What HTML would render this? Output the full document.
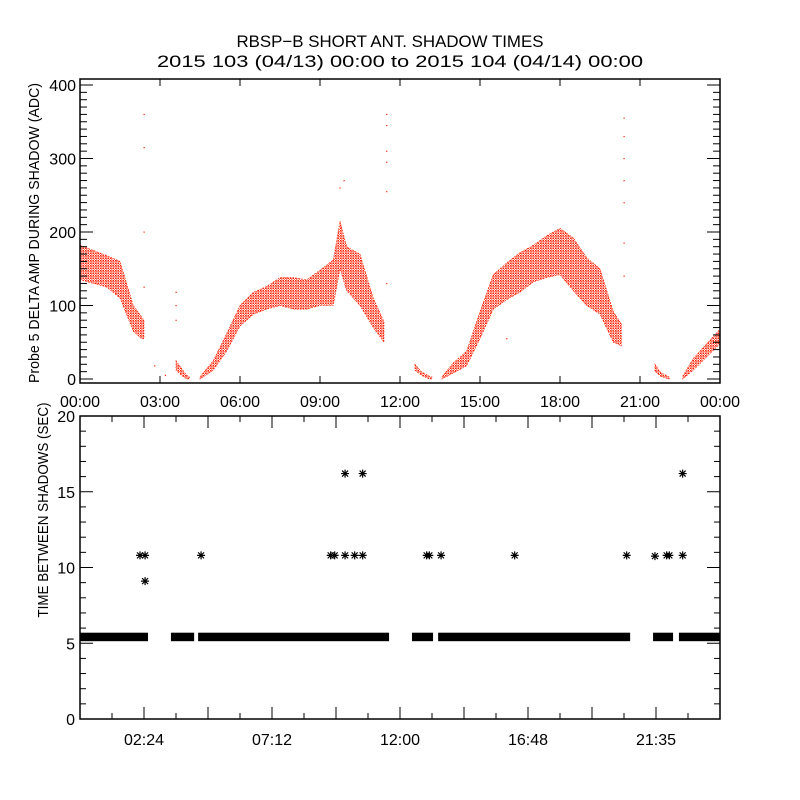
<!DOCTYPE html>
<html><head><meta charset="utf-8"><style>
html,body{margin:0;padding:0;background:#fff}
svg{display:block}
text{font-family:"Liberation Sans",sans-serif;fill:#000}
</style></head><body>
<svg id="chart" width="800" height="800" viewBox="0 0 800 800">
<defs>
<pattern id="dots" width="2.5" height="2.5" patternUnits="userSpaceOnUse">
<rect x="0" y="0" width="1.5" height="1.5" fill="#ff2000"/>
<rect x="1.3" y="1.3" width="1" height="1" fill="#ff2000"/>
</pattern>
</defs>
<text x="390" y="47" font-size="17" text-anchor="middle" textLength="307" lengthAdjust="spacingAndGlyphs">RBSP−B SHORT ANT. SHADOW TIMES</text>
<text x="400" y="67" font-size="17" text-anchor="middle" textLength="486" lengthAdjust="spacingAndGlyphs">2015 103 (04/13) 00:00 to 2015 104 (04/14) 00:00</text>
<g id="topPanel"></g>
<g id="botPanel"></g>
</svg>
<script>
// ---- top panel data (hours, low/high ADC envelopes per segment) ----
const topSegHours = [
 [0,0.5,1,1.5,2,2.3,2.4],
 [3.6,3.8,4.0,4.1],
 [4.5,5,5.5,6,6.5,7,7.5,8,8.5,9,9.5,9.75,10,10.5,11,11.4],
 [12.56,12.8,13.1,13.2],
 [13.57,14,14.5,15,15.5,16,16.5,17,17.5,18,18.5,19,19.5,20,20.3],
 [21.56,21.8,22.1],
 [22.6,23,23.5,24]
];
const topSegLow = [
 [135,130,125,110,65,55,55],
 [12,5,0,0],
 [0,12,38,72,88,95,100,95,95,100,100,150,120,100,70,50],
 [12,5,0,0],
 [0,8,18,55,95,108,118,132,138,142,120,100,88,50,45],
 [10,3,0],
 [0,12,30,48]
];
const topSegHigh = [
 [182,175,168,160,100,85,80],
 [25,15,5,3],
 [3,25,62,100,118,126,138,138,135,148,162,215,180,170,110,78],
 [20,10,4,3],
 [3,22,38,92,142,158,172,182,195,205,192,165,150,92,75],
 [20,8,3],
 [4,28,48,68]
];
const spikeHours = [2.4,2.4,2.4,2.4,3.6,3.6,3.6,11.5,11.5,11.5,11.5,11.5,11.5,20.4,20.4,20.4,20.4,20.4,20.4,20.4,9.9,9.75,2.8,3.2,16.0];
const spikeValues = [360,315,200,125,118,100,80,360,345,310,295,255,130,355,330,300,270,240,185,140,270,260,18,5,55];
const topYTicks = [0,100,200,300,400];
const topXLabels = ["00:00","03:00","06:00","09:00","12:00","15:00","18:00","21:00","00:00"];
// ---- bottom panel data ----
const runStart = [0,3.41,4.43,12.45,13.43,21.49,22.46];
const runEnd   = [2.55,4.28,11.59,13.24,20.63,22.24,24];
const runValue = [5.4,5.4,5.4,5.4,5.4,5.4,5.4];
const starHours  = [2.25,2.44,4.54,9.4,9.55,9.94,10.3,10.6,13.0,13.1,13.54,16.3,20.5,21.56,22.0,22.1,22.6,9.94,10.6,22.6,2.44];
const starValues = [10.8,10.8,10.8,10.8,10.8,10.8,10.8,10.8,10.8,10.8,10.8,10.8,10.8,10.75,10.8,10.8,10.8,16.2,16.2,16.2,9.1];
const botYTicks = [0,5,10,15,20];
const botXLabels = ["02:24","07:12","12:00","16:48","21:35"];
const botXLabelHours = [2.4,7.2,12,16.8,21.6];

const NS="http://www.w3.org/2000/svg";
function mk(parent,tag,attrs){const e=document.createElementNS(NS,tag);for(const k in attrs)e.setAttribute(k,attrs[k]);parent.appendChild(e);return e;}
const L=80,R=720;
const xs=h=>L+h/24*(R-L);
const tT=79,tB=383, yT=v=>379-v*0.735;
const bT=416,bB=719, yB=v=>719-v*(719-416)/20;

const topG=document.getElementById('topPanel');
topSegHours.forEach((hs,i)=>{
 let d='';
 hs.forEach((h,j)=>{d+=(j?'L':'M')+xs(h).toFixed(1)+','+yT(topSegHigh[i][j]).toFixed(1);});
 for(let j=hs.length-1;j>=0;j--){d+='L'+xs(hs[j]).toFixed(1)+','+yT(topSegLow[i][j]).toFixed(1);}
 const p=mk(topG,'path',{d:d+'Z',fill:'url(#dots)',stroke:'#ff2000','stroke-width':'0.6','stroke-dasharray':'1.5 1.5'});
 
 
});
spikeHours.forEach((h,i)=>{
 const r=mk(topG,'rect',{x:xs(h)-0.5,y:yT(spikeValues[i])-0.5,width:1.2,height:1.2,fill:'#ff2000'});
 
 
});
const tf=mk(topG,'rect',{x:L,y:tT,width:R-L,height:tB-tT,fill:'none',stroke:'#000','stroke-width':1.5});


for(let v=0;v<=400;v+=10){
 const len=v%100===0?13:7;
 mk(topG,'line',{x1:L,x2:L+len,y1:yT(v),y2:yT(v),stroke:'#000'});
 mk(topG,'line',{x1:R,x2:R-len,y1:yT(v),y2:yT(v),stroke:'#000'});
}
topYTicks.forEach(v=>{
 const t=mk(topG,'text',{x:L-4,y:yT(v)+6,'font-size':16,'text-anchor':'end'});t.textContent=v;
 
 
});
topXLabels.forEach((s,i)=>{
 const x=xs(i*3);
 mk(topG,'line',{x1:x,x2:x,y1:tT,y2:tT+7,stroke:'#000'});
 mk(topG,'line',{x1:x,x2:x,y1:tB,y2:tB-7,stroke:'#000'});
 const t=mk(topG,'text',{x:x,y:407,'font-size':16,'text-anchor':'middle'});t.textContent=s;
 
 
});
const tyt=mk(topG,'text',{x:0,y:0,'font-size':14.5,'text-anchor':'middle',transform:'translate(39,233) rotate(-90)',textLength:300,lengthAdjust:'spacingAndGlyphs'});
tyt.textContent='Probe 5 DELTA AMP DURING SHADOW (ADC)';



const botG=document.getElementById('botPanel');
runStart.forEach((s,i)=>{
 const r=mk(botG,'rect',{x:xs(s),y:yB(runValue[i])-4.5,width:xs(runEnd[i])-xs(s),height:8.5,fill:'#000'});
 
 
});
starHours.forEach((h,i)=>{
 const x=xs(h),y=yB(starValues[i]);
 const g=mk(botG,'path',{d:`M${x-4},${y}H${x+4}M${x},${y-4}V${y+4}M${x-3},${y-3}L${x+3},${y+3}M${x-3},${y+3}L${x+3},${y-3}`,stroke:'#000','stroke-width':1.2});
 
 
});
const bf=mk(botG,'rect',{x:L,y:bT,width:R-L,height:bB-bT,fill:'none',stroke:'#000','stroke-width':1.5});


for(let v=0;v<=20;v++){
 const len=v%5===0?13:6;
 mk(botG,'line',{x1:L,x2:L+len,y1:yB(v),y2:yB(v),stroke:'#000'});
 mk(botG,'line',{x1:R,x2:R-len,y1:yB(v),y2:yB(v),stroke:'#000'});
}
for(let k=1;k<20;k++){
 const h=k*1.2, x=xs(h), len=(k%2===0)?12:6;
 mk(botG,'line',{x1:x,x2:x,y1:bT,y2:bT+len,stroke:'#000'});
 mk(botG,'line',{x1:x,x2:x,y1:bB,y2:bB-len,stroke:'#000'});
}
botYTicks.forEach(v=>{
 const t=mk(botG,'text',{x:L-5,y:yB(v)+6,'font-size':16,'text-anchor':'end'});t.textContent=v;
 
 
});
botXLabels.forEach((s,i)=>{
 const t=mk(botG,'text',{x:xs(botXLabelHours[i]),y:745,'font-size':16,'text-anchor':'middle'});t.textContent=s;
 
 
});
const byt=mk(botG,'text',{x:0,y:0,'font-size':14.5,'text-anchor':'middle',transform:'translate(48,510) rotate(-90)',textLength:215,lengthAdjust:'spacingAndGlyphs'});
byt.textContent='TIME BETWEEN SHADOWS (SEC)';


</script>
</body></html>
